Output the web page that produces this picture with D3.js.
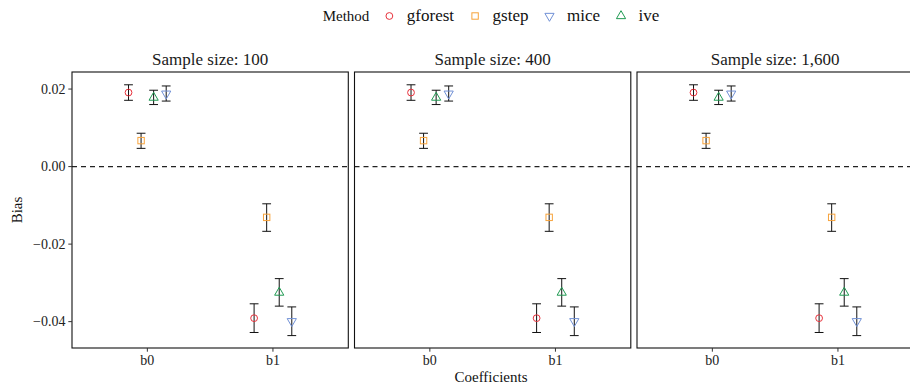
<!DOCTYPE html>
<html>
<head>
<meta charset="utf-8">
<script src="https://cdn.jsdelivr.net/npm/d3@7"></script>
<style>
  html, body { margin: 0; padding: 0; background: #fff; }
  svg { display: block; }
  text { font-family: 'Liberation Serif', 'DejaVu Serif', 'Times New Roman', Times, serif; }
</style>
</head>
<body>
<svg id="chart" width="910" height="388"></svg>
<script>
// ---- data ----
const methods = ["gforest", "gstep", "mice", "ive"];          // legend order
const dodgeOrder = ["gforest", "gstep", "ive", "mice"];        // order within category
const coefficients = ["b0", "b1"];
const sampleSizes = ["100", "400", "1,600"];
const yTicks = [-0.04, -0.02, 0.00, 0.02];

// estimates [b0, b1] per method (same in every panel)
const est100 = {
  gforest: [0.0191, -0.0391], gstep: [0.0067, -0.0131],
  mice: [0.0188, -0.0399], ive: [0.0178, -0.0325]
};
const lo100 = {
  gforest: [0.0171, -0.0428], gstep: [0.0047, -0.0167],
  mice: [0.0169, -0.0436], ive: [0.0160, -0.0360]
};
const hi100 = {
  gforest: [0.0211, -0.0354], gstep: [0.0086, -0.0096],
  mice: [0.0208, -0.0362], ive: [0.0197, -0.0289]
};
const est400 = est100, lo400 = lo100, hi400 = hi100;
const est1600 = est100, lo1600 = lo100, hi1600 = hi100;
const panelData = [[est100, lo100, hi100], [est400, lo400, hi400], [est1600, lo1600, hi1600]];

// ---- styles ----
const colors = { gforest: "#e8323c", gstep: "#f7a33b", mice: "#7191d6", ive: "#1f9a52" };
const FONT = "'Liberation Serif', 'DejaVu Serif', serif";

const svg = d3.select("#chart");
const panelLeft0 = 72, panelW = 276.3, panelGap = 6.2, panelTop = 72, panelBottom = 348;

const y = d3.scaleLinear().domain([-0.0468, 0.0244]).range([panelBottom, panelTop]);

function drawShape(g, method, cx, cy) {
  const c = colors[method];
  if (method === "gforest") {
    g.append("circle").attr("cx", cx).attr("cy", cy).attr("r", 3.4)
      .attr("fill", "none").attr("stroke", c).attr("stroke-width", 1);
  } else if (method === "gstep") {
    g.append("rect").attr("x", cx - 3.2).attr("y", cy - 3.2).attr("width", 6.4).attr("height", 6.4)
      .attr("fill", "none").attr("stroke", c).attr("stroke-width", 1);
  } else {
    const t0 = 5.3, t1 = 4.6, t2 = 2.65;
    const s = method === "ive" ? 1 : -1;  // up for ive, down for mice
    const pts = [[cx, cy - s * t0], [cx + t1, cy + s * t2], [cx - t1, cy + s * t2]];
    g.append("path").attr("d", "M" + pts.map(p => p.join(",")).join("L") + "Z")
      .attr("fill", "none").attr("stroke", c).attr("stroke-width", 1);
  }
}

sampleSizes.forEach((ss, i) => {
  const left = panelLeft0 + i * (panelW + panelGap);
  // discrete scale with 0.6 expansion on both sides
  const x = d3.scalePoint().domain(coefficients).range([left, left + panelW]).padding(0.6);
  const unit = x.step();
  const g = svg.append("g");

  // zero line
  g.append("line").attr("x1", left).attr("x2", left + panelW)
    .attr("y1", y(0)).attr("y2", y(0))
    .attr("stroke", "#222").attr("stroke-width", 1.1).attr("stroke-dasharray", "5,4");

  const [est, lo, hi] = panelData[i];
  coefficients.forEach((cf, ci) => {
    dodgeOrder.forEach((m, mi) => {
      const cx = x(cf) + (mi - 1.5) * 0.1 * unit;
      const capW = 0.035 * unit;
      g.append("line").attr("x1", cx).attr("x2", cx).attr("y1", y(lo[m][ci])).attr("y2", y(hi[m][ci]))
        .attr("stroke", "#111").attr("stroke-width", 1);
      [lo[m][ci], hi[m][ci]].forEach(v => {
        g.append("line").attr("x1", cx - capW).attr("x2", cx + capW).attr("y1", y(v)).attr("y2", y(v))
          .attr("stroke", "#111").attr("stroke-width", 1);
      });
      drawShape(g, m, cx, y(est[m][ci]));
    });
  });

  // border
  g.append("rect").attr("x", left).attr("y", panelTop).attr("width", panelW).attr("height", panelBottom - panelTop)
    .attr("fill", "none").attr("stroke", "#111").attr("stroke-width", 1.1);

  // x ticks
  coefficients.forEach(cf => {
    g.append("line").attr("x1", x(cf)).attr("x2", x(cf)).attr("y1", panelBottom).attr("y2", panelBottom + 3.7)
      .attr("stroke", "#333").attr("stroke-width", 1);
    g.append("text").attr("x", x(cf)).attr("y", panelBottom + 17).attr("text-anchor", "middle")
      .attr("font-family", FONT).attr("font-size", 14).attr("fill", "#222").text(cf);
  });

  // strip title
  g.append("text").attr("x", left + panelW / 2).attr("y", 65).attr("text-anchor", "middle")
    .attr("font-family", FONT).attr("font-size", 17).attr("fill", "#1a1a1a").text("Sample size: " + ss);
});

// y axis
const fmt = v => (v < 0 ? "\u2212" : "") + Math.abs(v).toFixed(2);
yTicks.forEach(v => {
  svg.append("line").attr("x1", panelLeft0 - 3.7).attr("x2", panelLeft0).attr("y1", y(v)).attr("y2", y(v))
    .attr("stroke", "#333").attr("stroke-width", 1);
  svg.append("text").attr("x", panelLeft0 - 6.5).attr("y", y(v)).attr("dy", "0.34em")
    .attr("font-family", FONT).attr("text-anchor", "end").attr("font-size", 14).attr("fill", "#222").text(fmt(v));
});

// axis titles
svg.append("text").attr("transform", `translate(22,${(panelTop + panelBottom) / 2}) rotate(-90)`)
  .attr("font-family", FONT).attr("text-anchor", "middle").attr("font-size", 15).attr("fill", "#111").text("Bias");
svg.append("text").attr("x", 491).attr("y", 382).attr("text-anchor", "middle")
  .attr("font-family", FONT).attr("font-size", 15).attr("fill", "#111").text("Coefficients");

// legend
const lg = svg.append("g");
const title = lg.append("text").attr("x", 0).attr("y", 21).attr("font-family", FONT)
  .attr("font-size", 15).attr("fill", "#111").text("Method");
let cx = title.node().getComputedTextLength() + 20;
methods.forEach(m => {
  drawShape(lg, m, cx, 16);
  const t = lg.append("text").attr("x", cx + 17.5).attr("y", 21).attr("font-family", FONT)
    .attr("font-size", 17).attr("fill", "#111").text(m);
  cx = cx + 17.5 + t.node().getComputedTextLength() + 21;
});
const totalW = cx - 21;
lg.attr("transform", `translate(${491 - totalW / 2},0)`);
</script>
</body>
</html>
